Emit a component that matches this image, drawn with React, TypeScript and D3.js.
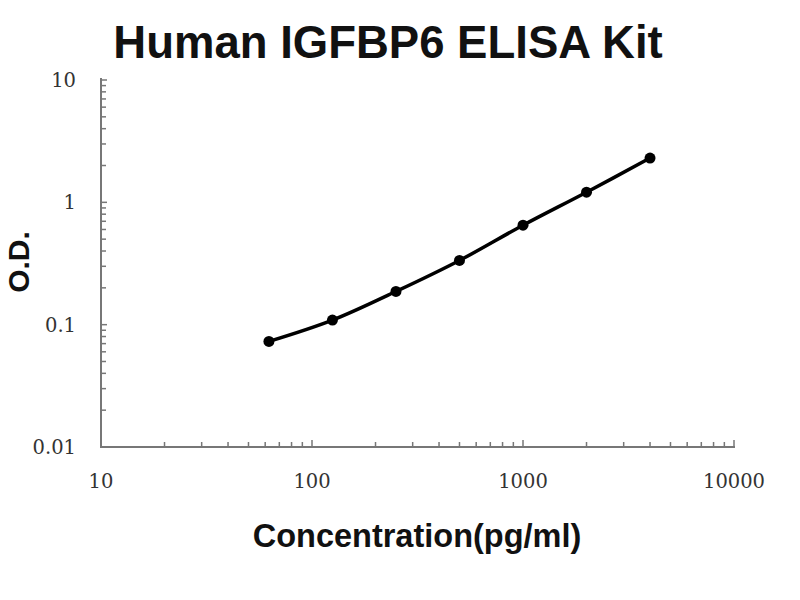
import React from 'react';
import * as d3 from 'd3';

const concentrations = [62.5, 125, 250, 500, 1000, 2000, 4000];
const odValues = [0.073, 0.109, 0.187, 0.335, 0.65, 1.21, 2.3];
const xTickValues = [10, 100, 1000, 10000];
const xTickLabels = ['10', '100', '1000', '10000'];
const yTickValues = [0.01, 0.1, 1, 10];
const yTickLabels = ['0.01', '0.1', '1', '10'];

const W = 800;
const H = 600;

const App = () => {
  const x = d3.scaleLog().domain([10, 10000]).range([101, 734]);
  const y = d3.scaleLog().domain([0.01, 10]).range([447, 80]);

  const points = concentrations.map((c, i) => [x(c), y(odValues[i])] as [number, number]);
  const line = d3.line().curve(d3.curveCatmullRom.alpha(0.5));

  // minor ticks 2..9 for each decade
  const minor = (lo: number, hi: number) => {
    const out: number[] = [];
    for (let d = lo; d < hi; d *= 10) {
      for (let k = 2; k <= 9; k++) out.push(d * k);
    }
    return out;
  };
  const xMinor = minor(10, 10000);
  const yMinor = minor(0.01, 10);

  const axisColor = '#777';
  const labelFont = '"DejaVu Serif", serif';
  const boldFont = '"Liberation Sans", Arial, sans-serif';

  return (
    <svg width={W} height={H} style={{ position: 'absolute', left: 0, top: 0, background: '#fff' }}>
      <rect width={W} height={H} fill="#fff" />
      <text x={388} y={58} textAnchor="middle" fontFamily={boldFont} fontWeight="bold" fontSize={45.5} fill="#111">
        Human IGFBP6 ELISA Kit
      </text>

      {/* axes */}
      <line x1={101} x2={101} y1={78} y2={448} stroke={axisColor} strokeWidth={2} />
      <line x1={100} x2={735} y1={447} y2={447} stroke={axisColor} strokeWidth={2} />

      {yMinor.map((v, i) => (
        <line key={'ym' + i} x1={101} x2={106} y1={y(v)} y2={y(v)} stroke={axisColor} strokeWidth={1.5} />
      ))}
      {yTickValues.map((v, i) => (
        <g key={'yt' + i}>
          <line x1={101} x2={107} y1={y(v)} y2={y(v)} stroke={axisColor} strokeWidth={1.5} />
          <text x={76} y={y(v)} dy="0.36em" textAnchor="end" fontFamily={labelFont} fontSize={19.5} fill="#333">
            {yTickLabels[i]}
          </text>
        </g>
      ))}

      {xMinor.map((v, i) => (
        <line key={'xm' + i} x1={x(v)} x2={x(v)} y1={447} y2={442} stroke={axisColor} strokeWidth={1.5} />
      ))}
      {xTickValues.map((v, i) => (
        <g key={'xt' + i}>
          <line x1={x(v)} x2={x(v)} y1={447} y2={440} stroke={axisColor} strokeWidth={1.5} />
          <text x={x(v)} y={488} textAnchor="middle" fontFamily={labelFont} fontSize={19.5} fill="#333">
            {xTickLabels[i]}
          </text>
        </g>
      ))}

      <path d={line(points) || ''} fill="none" stroke="#000" strokeWidth={3.5} />
      {points.map((p, i) => (
        <circle key={'p' + i} cx={p[0]} cy={p[1]} r={5.5} fill="#000" />
      ))}

      <text x={417} y={547} textAnchor="middle" fontFamily={boldFont} fontWeight="bold" fontSize={32.5} fill="#111">
        Concentration(pg/ml)
      </text>
      <text
        transform="translate(29,262) rotate(-90)"
        textAnchor="middle"
        fontFamily={boldFont}
        fontWeight="bold"
        fontSize={30}
        fill="#111"
      >
        O.D.
      </text>
    </svg>
  );
};

export default App;
